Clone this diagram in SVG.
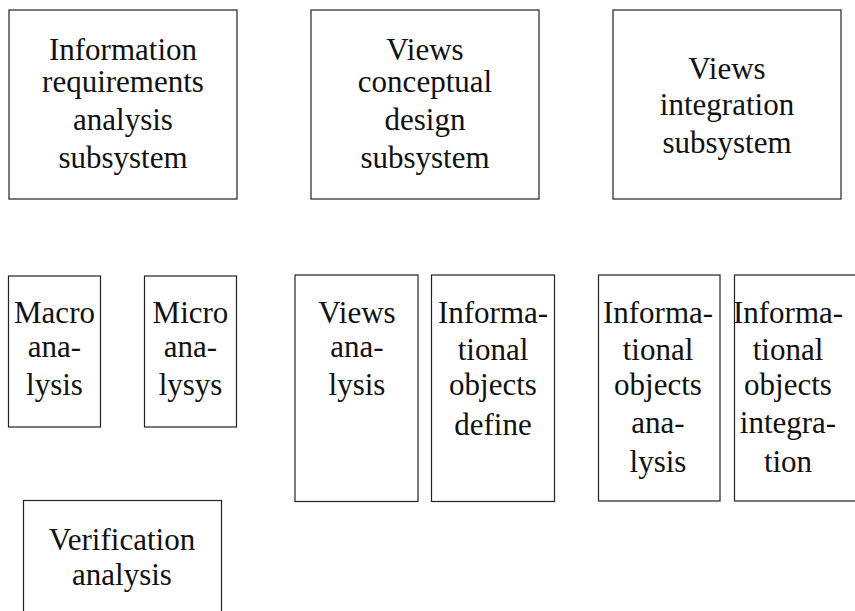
<svg xmlns="http://www.w3.org/2000/svg" width="855" height="611" viewBox="0 0 855 611">
<style>
.box{fill:#fff;stroke:#222;stroke-width:1.2}
.t{font-family:"Liberation Serif","Times New Roman",serif;font-size:31px;fill:#111;text-anchor:middle}
</style>
<rect x="0" y="0" width="855" height="611" fill="#fff"/>
<g id="n1">
<rect class="box" x="9" y="10" width="228" height="189"/>
<text class="t" x="123" y="60">Information</text>
<text class="t" x="123" y="92">requirements</text>
<text class="t" x="123" y="130">analysis</text>
<text class="t" x="123" y="168">subsystem</text>
</g>
<g id="n2">
<rect class="box" x="311" y="10" width="228" height="189"/>
<text class="t" x="425" y="60">Views</text>
<text class="t" x="425" y="92">conceptual</text>
<text class="t" x="425" y="130">design</text>
<text class="t" x="425" y="168">subsystem</text>
</g>
<g id="n3">
<rect class="box" x="613" y="10" width="228" height="189"/>
<text class="t" x="727" y="79">Views</text>
<text class="t" x="727" y="115">integration</text>
<text class="t" x="727" y="153">subsystem</text>
</g>
<g id="n4">
<rect class="box" x="8.5" y="276" width="92" height="151"/>
<text class="t" x="54.5" y="323">Macro</text>
<text class="t" x="54.5" y="357">ana-</text>
<text class="t" x="54.5" y="395">lysis</text>
</g>
<g id="n5">
<rect class="box" x="144.5" y="276" width="92" height="151"/>
<text class="t" x="190.5" y="323">Micro</text>
<text class="t" x="190.5" y="357">ana-</text>
<text class="t" x="190.5" y="395">lysys</text>
</g>
<g id="n6">
<rect class="box" x="295" y="275" width="123" height="226.5"/>
<text class="t" x="357" y="323">Views</text>
<text class="t" x="357" y="357">ana-</text>
<text class="t" x="357" y="395">lysis</text>
</g>
<g id="n7">
<rect class="box" x="431.5" y="275" width="123" height="226.5"/>
<text class="t" x="493" y="323">Informa-</text>
<text class="t" x="493" y="360">tional</text>
<text class="t" x="493" y="395">objects</text>
<text class="t" x="493" y="435">define</text>
</g>
<g id="n8">
<rect class="box" x="598.5" y="275" width="121.5" height="226"/>
<text class="t" x="658" y="323">Informa-</text>
<text class="t" x="658" y="360">tional</text>
<text class="t" x="658" y="395">objects</text>
<text class="t" x="658" y="433">ana-</text>
<text class="t" x="658" y="472">lysis</text>
</g>
<g id="n9">
<rect class="box" x="734.5" y="275" width="130" height="226"/>
<text class="t" x="788" y="323">Informa-</text>
<text class="t" x="788" y="360">tional</text>
<text class="t" x="788" y="395">objects</text>
<text class="t" x="788" y="433">integra-</text>
<text class="t" x="788" y="472">tion</text>
</g>
<g id="n10">
<rect class="box" x="23.5" y="500.5" width="198" height="130"/>
<text class="t" x="122" y="550">Verification</text>
<text class="t" x="122" y="585">analysis</text>
</g>
<g id="connectors"></g>
</svg>
